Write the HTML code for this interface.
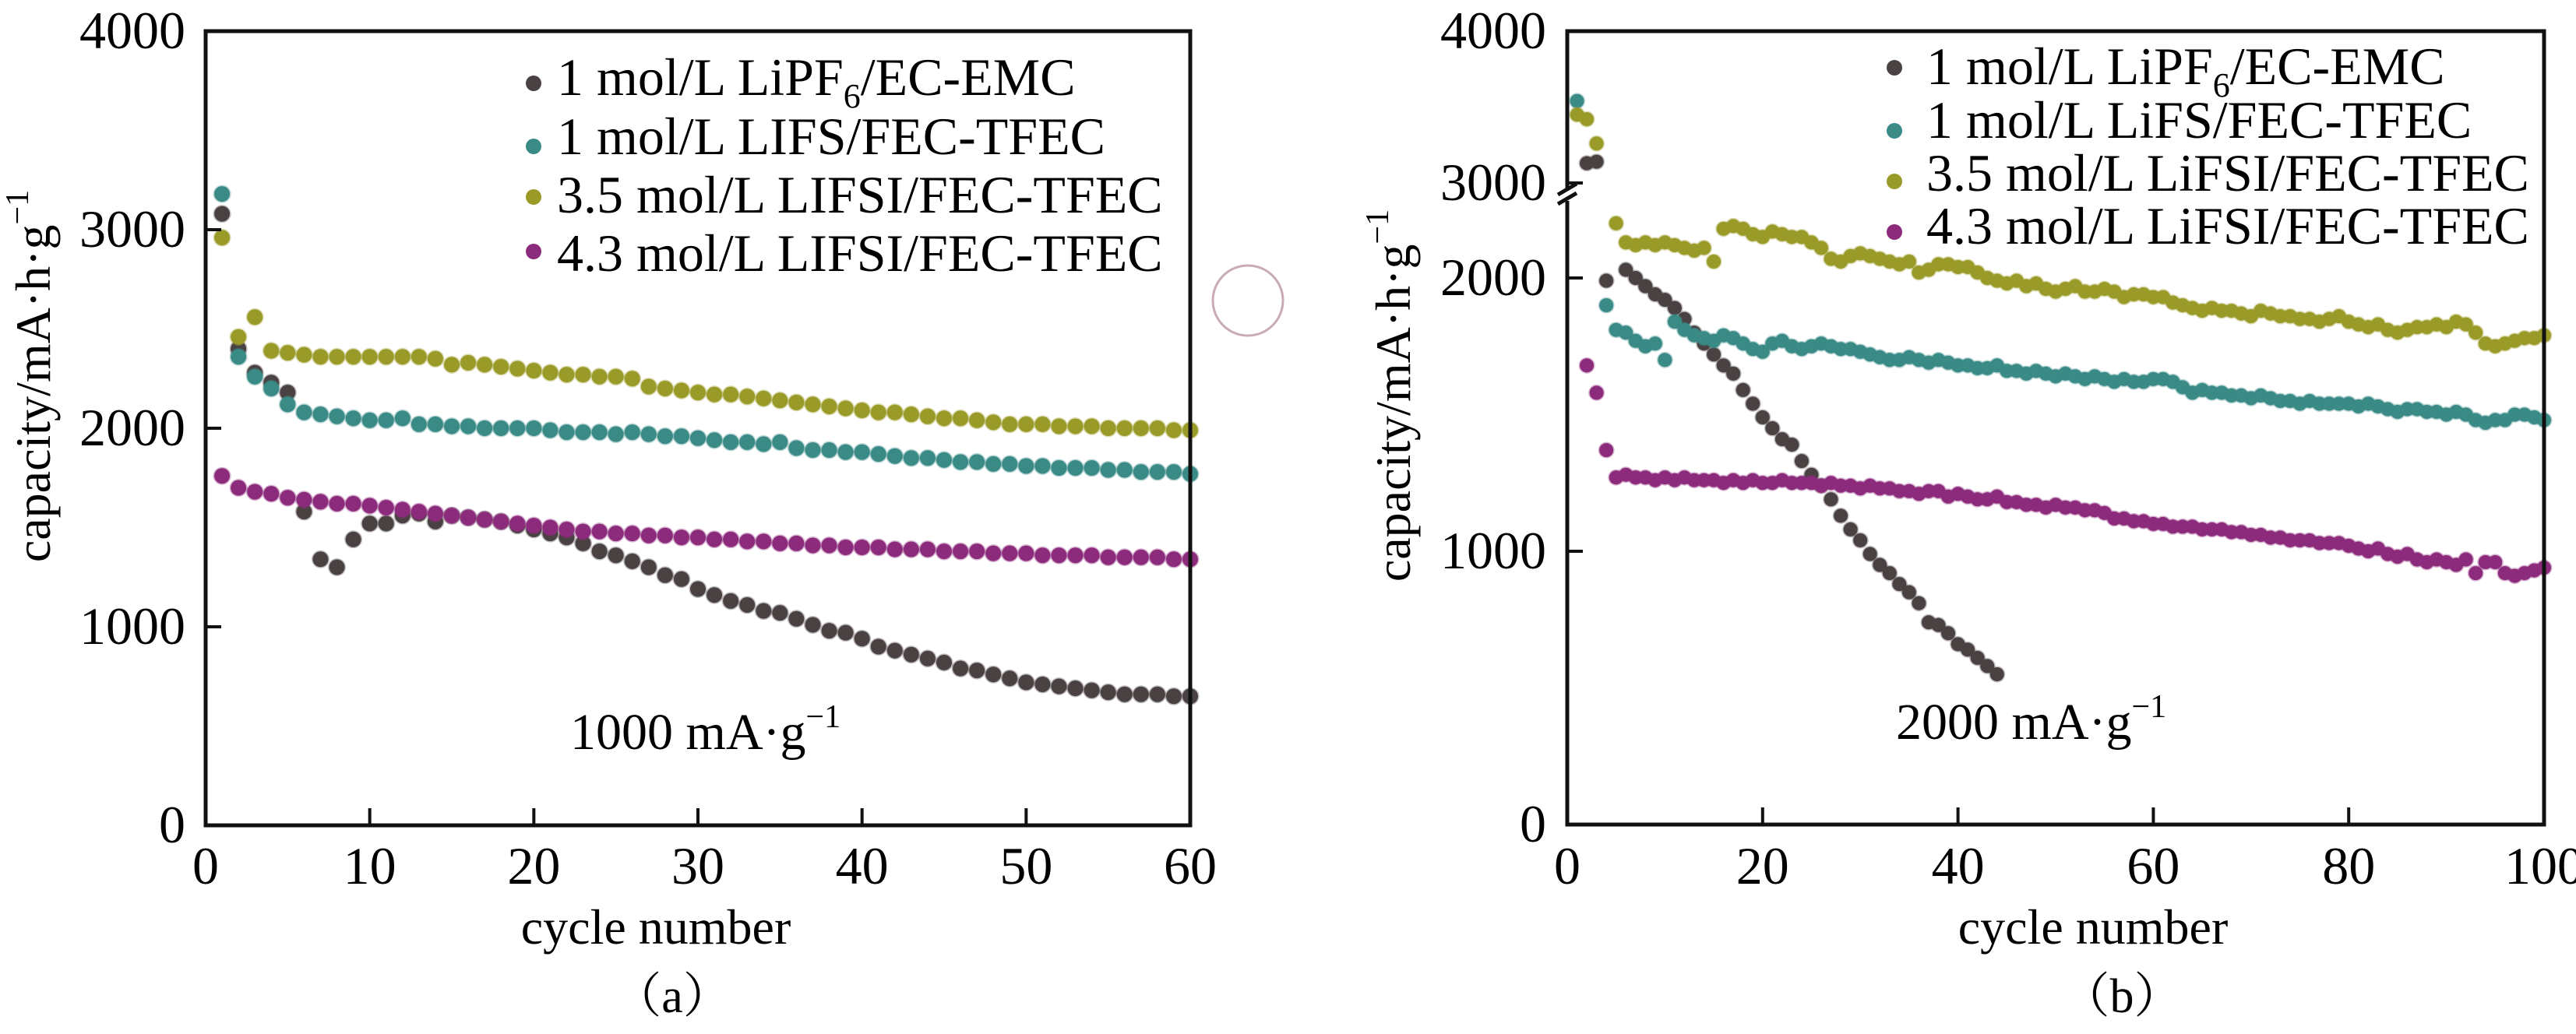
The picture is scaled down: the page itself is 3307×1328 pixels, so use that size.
<!DOCTYPE html>
<html><head><meta charset="utf-8"><style>
html,body{margin:0;padding:0;background:#fff;}
svg{display:block;font-family:"Liberation Serif",serif;}
</style></head><body>
<svg id="chart" width="3307" height="1328" viewBox="0 0 3307 1328" xmlns="http://www.w3.org/2000/svg">
<g id="pa"></g>
<g id="pb"></g>
<circle cx="1602" cy="386" r="45" fill="none" stroke="#c8aab8" stroke-width="3"/>
</svg>
<script>
const NS="http://www.w3.org/2000/svg";
// ---- Panel A data ----
const cyclesA=[1,2,3,4,5,6,7,8,9,10,11,12,13,14,15,16,17,18,19,20,21,22,23,24,25,26,27,28,29,30,31,32,33,34,35,36,37,38,39,40,41,42,43,44,45,46,47,48,49,50,51,52,53,54,55,56,57,58,59,60];
const blackA=[3080,2400,2280,2230,2180,1580,1340,1300,1440,1520,1520,1560,1570,1530,1560,1550,1540,1530,1510,1490,1470,1450,1420,1380,1360,1330,1300,1260,1240,1190,1160,1130,1110,1080,1070,1040,1010,980,970,940,900,880,860,840,820,790,780,760,740,720,710,700,690,680,670,660,660,660,650,650];
const tealA=[3180,2360,2260,2200,2120,2080,2070,2060,2050,2040,2040,2050,2020,2020,2010,2010,2000,2000,2000,2000,1990,1980,1980,1980,1970,1980,1970,1960,1960,1950,1940,1930,1930,1920,1930,1900,1890,1890,1880,1880,1870,1860,1850,1850,1840,1830,1830,1820,1820,1810,1810,1800,1800,1800,1790,1790,1780,1780,1780,1770];
const oliveA=[2960,2460,2560,2390,2380,2370,2360,2360,2360,2360,2360,2360,2360,2350,2320,2330,2320,2310,2300,2290,2280,2270,2270,2260,2260,2250,2210,2200,2190,2180,2170,2170,2160,2150,2140,2130,2120,2110,2100,2090,2080,2080,2070,2060,2050,2050,2040,2030,2020,2020,2020,2010,2010,2010,2000,2000,2000,2000,1990,1990];
const purpleA=[1760,1700,1680,1670,1650,1640,1630,1620,1620,1610,1600,1590,1580,1570,1560,1550,1540,1530,1520,1510,1500,1490,1480,1480,1470,1470,1460,1460,1450,1450,1440,1440,1430,1430,1420,1420,1410,1410,1400,1400,1400,1390,1390,1390,1380,1380,1380,1370,1370,1370,1360,1360,1360,1360,1350,1350,1350,1350,1340,1340];
const xTicksA=[0,10,20,30,40,50,60];
const yTicksA=[0,1000,2000,3000,4000];
// ---- Panel B data ----
const blackBx=[2,3,4,6,7,8,9,10,11,12,13,14,15,16,17,18,19,20,21,22,23,24,25,26,27,28,29,30,31,32,33,34,35,36,37,38,39,40,41,42,43,44];
const blackBy=[3130,3140,1990,2030,2000,1970,1940,1920,1890,1850,1800,1760,1720,1680,1650,1590,1540,1490,1450,1410,1390,1330,1280,1240,1190,1130,1080,1040,990,950,920,880,850,810,740,730,700,660,640,610,580,550];
const tealBx=[1,4,5,6,7,8,9,10,11,12,13,14,15,16,17,18,19,20,21,22,23,24,25,26,27,28,29,30,31,32,33,34,35,36,37,38,39,40,41,42,43,44,45,46,47,48,49,50,51,52,53,54,55,56,57,58,59,60,61,62,63,64,65,66,67,68,69,70,71,72,73,74,75,76,77,78,79,80,81,82,83,84,85,86,87,88,89,90,91,92,93,94,95,96,97,98,99,100];
const tealBy=[3540,1900,1810,1800,1770,1750,1760,1700,1840,1810,1790,1780,1770,1790,1780,1760,1740,1730,1760,1770,1750,1740,1750,1760,1750,1740,1740,1730,1720,1710,1700,1700,1710,1700,1690,1700,1690,1680,1680,1670,1670,1680,1660,1660,1650,1660,1650,1640,1650,1640,1630,1640,1630,1620,1630,1620,1620,1630,1630,1620,1600,1580,1590,1580,1580,1570,1570,1560,1570,1560,1550,1550,1540,1550,1540,1540,1540,1540,1530,1540,1530,1520,1510,1520,1520,1510,1510,1500,1510,1500,1480,1470,1480,1480,1500,1500,1490,1480];
const oliveBx=[1,2,3,5,6,7,8,9,10,11,12,13,14,15,16,17,18,19,20,21,22,23,24,25,26,27,28,29,30,31,32,33,34,35,36,37,38,39,40,41,42,43,44,45,46,47,48,49,50,51,52,53,54,55,56,57,58,59,60,61,62,63,64,65,66,67,68,69,70,71,72,73,74,75,76,77,78,79,80,81,82,83,84,85,86,87,88,89,90,91,92,93,94,95,96,97,98,99,100];
const oliveBy=[3450,3420,3260,2200,2130,2120,2130,2120,2130,2120,2110,2100,2110,2060,2180,2190,2180,2160,2150,2170,2160,2150,2150,2130,2110,2070,2060,2080,2090,2080,2070,2060,2050,2060,2020,2030,2050,2050,2040,2040,2020,2000,1990,1980,1990,1970,1980,1960,1950,1960,1970,1950,1950,1960,1950,1930,1940,1940,1930,1930,1910,1900,1890,1880,1890,1880,1880,1870,1860,1880,1870,1860,1860,1850,1850,1840,1850,1860,1840,1830,1820,1830,1810,1800,1810,1820,1820,1830,1820,1840,1830,1800,1760,1750,1760,1770,1780,1780,1790];
const purpleBx=[2,3,4,5,6,7,8,9,10,11,12,13,14,15,16,17,18,19,20,21,22,23,24,25,26,27,28,29,30,31,32,33,34,35,36,37,38,39,40,41,42,43,44,45,46,47,48,49,50,51,52,53,54,55,56,57,58,59,60,61,62,63,64,65,66,67,68,69,70,71,72,73,74,75,76,77,78,79,80,81,82,83,84,85,86,87,88,89,90,91,92,93,94,95,96,97,98,99,100];
const purpleBy=[1680,1580,1370,1270,1280,1270,1270,1260,1270,1260,1270,1260,1260,1260,1250,1260,1250,1260,1250,1250,1260,1250,1250,1250,1240,1250,1240,1240,1230,1240,1230,1230,1220,1220,1210,1220,1220,1200,1210,1200,1190,1190,1200,1180,1180,1170,1170,1160,1170,1160,1160,1150,1150,1140,1120,1120,1110,1110,1100,1100,1090,1090,1090,1080,1080,1080,1070,1070,1060,1060,1050,1050,1040,1040,1040,1030,1030,1030,1020,1010,1000,1010,990,980,990,970,960,970,960,950,970,920,960,960,920,910,920,930,940];
const xTicksB=[0,20,40,60,80,100];
const yTicksB=[0,1000,2000,3000,4000];

const COL={black:"#4a4242",teal:"#3a8a86",olive:"#9a9a28",purple:"#8c2a7c"};
function el(parent,tag,attrs,text){const e=document.createElementNS(NS,tag);for(const k in attrs)e.setAttribute(k,attrs[k]);if(text!==undefined)e.textContent=text;parent.appendChild(e);return e;}

// ---- Panel A ----
const pa=document.getElementById('pa');
const A={l:264,r:1528,t:40,b:1060};
const xA=c=>A.l+(c/60)*(A.r-A.l);
const yA=v=>A.b-(v/4000)*(A.b-A.t);
function series(g,name,xs,ys,xf,yf,color,r){
  const sg=el(g,'g',{});
  
  
  xs.forEach((c,i)=>{const p=el(sg,'circle',{cx:xf(c),cy:yf(ys[i]),r:r,fill:color,stroke:color,'stroke-opacity':0.35,'stroke-width':3});
    
    });
}
series(pa,'series-lipf6-ec-emc',cyclesA,blackA,xA,yA,COL.black,10);
series(pa,'series-1m-lifs',cyclesA,tealA,xA,yA,COL.teal,10);
series(pa,'series-3.5m-lifsi',cyclesA,oliveA,xA,yA,COL.olive,10);
series(pa,'series-4.3m-lifsi',cyclesA,purpleA,xA,yA,COL.purple,10);
el(pa,'rect',{x:A.l,y:A.t,width:A.r-A.l,height:A.b-A.t,fill:'none',stroke:'#111',"stroke-width":5,});
xTicksA.forEach(t=>{const x=xA(t);el(pa,'line',{x1:x,x2:x,y1:A.b,y2:A.b-22,stroke:'#111','stroke-width':4});
  const tx=el(pa,'text',{x:x,y:1135,'text-anchor':'middle','font-size':68},String(t));
  
  });
yTicksA.forEach(t=>{const y=yA(t);el(pa,'line',{x1:A.l,x2:A.l+20,y1:y,y2:y,stroke:'#111','stroke-width':4});
  const tx=el(pa,'text',{x:238,y:y+22,'text-anchor':'end','font-size':68},String(t));
  
  });
</script>
<script>
// ---- Panel B ----
const pb=document.getElementById('pb');
const B={l:2012,r:3266,t:40,b:1059};
const xB=c=>B.l+(c/100)*(B.r-B.l);
const yB=v=>v>=2800?235-(v-3000)*0.195:B.b-v*0.351;
series(pb,'series-lipf6-ec-emc-b',blackBx,blackBy,xB,yB,COL.black,9);
series(pb,'series-1m-lifs-b',tealBx,tealBy,xB,yB,COL.teal,9);
series(pb,'series-3.5m-lifsi-b',oliveBx,oliveBy,xB,yB,COL.olive,9);
series(pb,'series-4.3m-lifsi-b',purpleBx,purpleBy,xB,yB,COL.purple,9);
el(pb,'rect',{x:B.l,y:B.t,width:B.r-B.l,height:B.b-B.t,fill:'none',stroke:'#111',"stroke-width":5,});
// axis break
el(pb,'rect',{x:B.l-8,y:244,width:16,height:14,fill:'#fff'});
el(pb,'line',{x1:B.l-12,y1:250,x2:B.l+12,y2:236,stroke:'#111','stroke-width':5,});
el(pb,'line',{x1:B.l-12,y1:262,x2:B.l+12,y2:248,stroke:'#111','stroke-width':5});
xTicksB.forEach(t=>{const x=xB(t);el(pb,'line',{x1:x,x2:x,y1:B.b,y2:B.b-22,stroke:'#111','stroke-width':4});
  const tx=el(pb,'text',{x:x,y:1135,'text-anchor':'middle','font-size':68},String(t));
  
  });
yTicksB.forEach(t=>{const y=yB(t);el(pb,'line',{x1:B.l,x2:B.l+20,y1:y,y2:y,stroke:'#111','stroke-width':4});
  const tx=el(pb,'text',{x:1985,y:y+22,'text-anchor':'end','font-size':68},String(t));
  
  });

// ---- Legends & labels ----
function legend(g,x,tx,cys,bys,labels,r){
  const cols=[COL.black,COL.teal,COL.olive,COL.purple];
  labels.forEach((lab,i)=>{
    const c=el(g,'circle',{cx:x,cy:cys[i],r:r,fill:cols[i]});
    
    
    const t=el(g,'text',{x:tx,y:bys[i],'font-size':68});
    
    
    t.innerHTML=lab;
  });
}
legend(pa,685,715,[107,188,253,323],[122,198,273,348],['1 mol/L LiPF<tspan font-size="44" dy="16">6</tspan><tspan dy="-16">/EC-EMC</tspan>','1 mol/L LIFS/FEC-TFEC','3.5 mol/L LIFSI/FEC-TFEC','4.3 mol/L LIFSI/FEC-TFEC'],10);
legend(pb,2432,2473,[87,168,233,298],[108,177,245,313],['1 mol/L LiPF<tspan font-size="44" dy="16">6</tspan><tspan dy="-16">/EC-EMC</tspan>','1 mol/L LiFS/FEC-TFEC','3.5 mol/L LiFSI/FEC-TFEC','4.3 mol/L LiFSI/FEC-TFEC'],10);
function lbl(g,name,attrs,html){const t=el(g,'text',attrs);t.innerHTML=html;return t;}
const sup='mA·g<tspan font-size="42" dy="-28">−1</tspan>';
lbl(pa,'current-density-label',{x:732,y:962,'font-size':66},'1000 '+sup);
lbl(pb,'current-density-label-b',{x:2434,y:949,'font-size':66},'2000 '+sup);
lbl(pa,'x-axis-title-a',{x:842,y:1212,'text-anchor':'middle','font-size':64},'cycle number');
lbl(pb,'x-axis-title-b',{x:2687,y:1212,'text-anchor':'middle','font-size':64},'cycle number');
lbl(pa,'panel-label-a',{x:863,y:1300,'text-anchor':'middle','font-size':62,'font-family':'"Liberation Serif","Noto Serif CJK SC",serif'},'（a）');
lbl(pb,'panel-label-b',{x:2724,y:1300,'text-anchor':'middle','font-size':62,'font-family':'"Liberation Serif","Noto Serif CJK SC",serif'},'（b）');
lbl(pa,'y-axis-title-a',{x:0,y:0,'text-anchor':'middle','font-size':64,transform:'translate(64,483) rotate(-90)'},'capacity/mA·h·g<tspan font-size="42" dy="-28">−1</tspan>');
lbl(pb,'y-axis-title-b',{x:0,y:0,'text-anchor':'middle','font-size':64,transform:'translate(1810,508) rotate(-90)'},'capacity/mA·h·g<tspan font-size="42" dy="-28">−1</tspan>');
</script>
</body></html>
